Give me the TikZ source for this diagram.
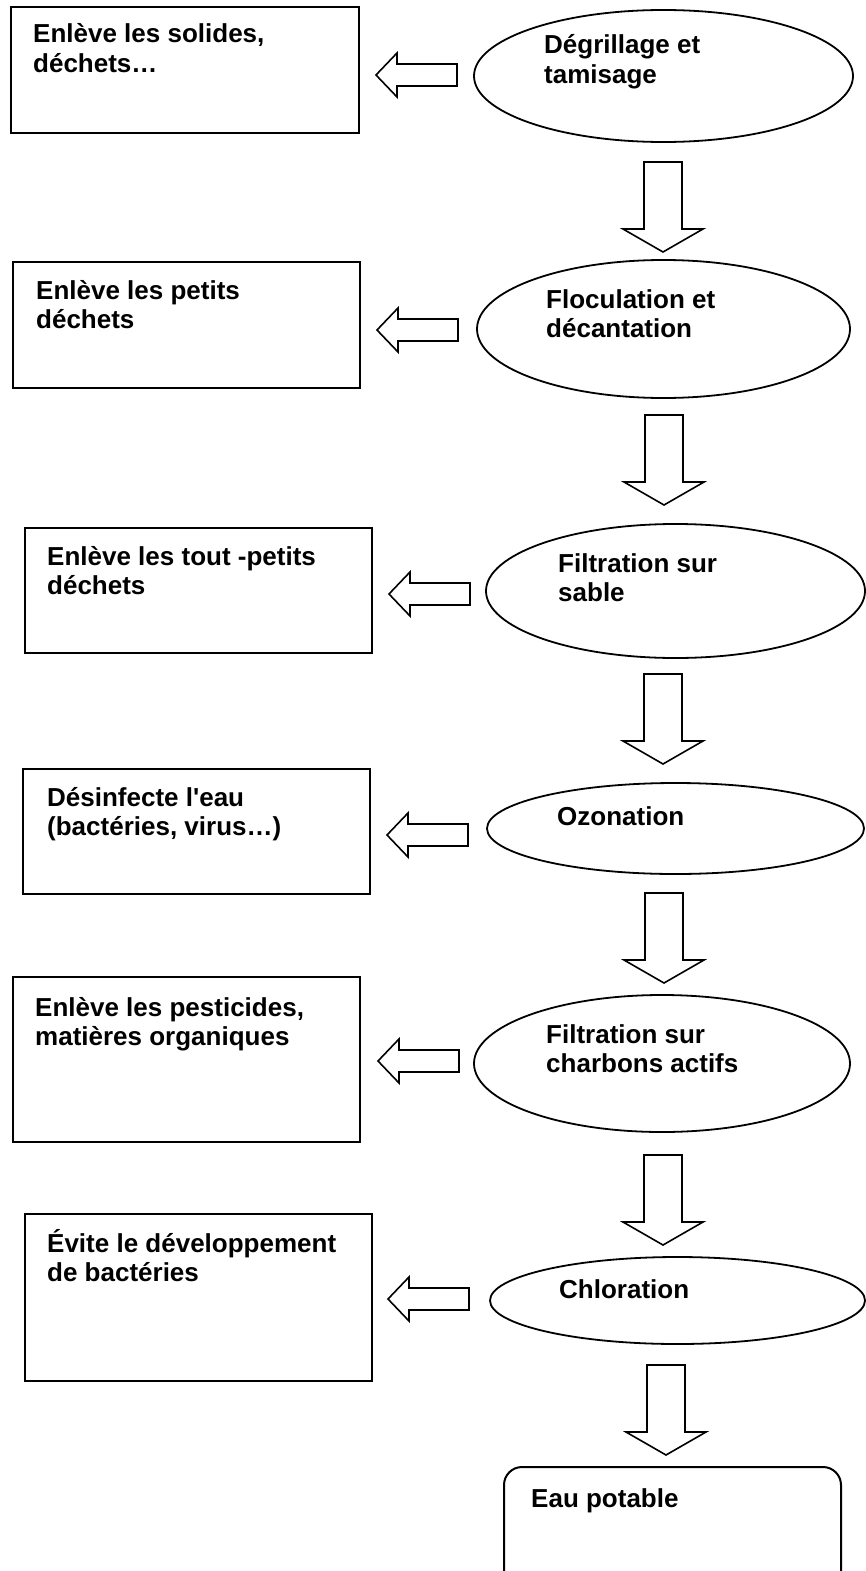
\documentclass[tikz,border=0pt]{standalone}
\usepackage{fontspec}
\setmainfont{Liberation Sans}[Ligatures=TeXOff]
\usetikzlibrary{shapes.geometric}
\tikzset{
  stepbox/.style={draw, line width=2pt, rectangle, inner sep=0pt},
  procell/.style={draw, line width=1.8pt, ellipse, inner sep=0pt},
  lbl/.style={anchor=base west, inner sep=0pt, font=\fontsize{26}{29.5}\selectfont\bfseries},
  blk/.style={draw, line width=1.6pt, fill=white, line join=miter},
  downarr/.pic={\draw[blk] (-19,-90) -- (19,-90) -- (19,-23) -- (40,-23) -- (0,0) -- (-40,-23) -- (-19,-23) -- cycle;},
  leftarr/.pic={\draw[blk] (0,0) -- (21,-22) -- (21,-11) -- (81,-11) -- (81,11) -- (21,11) -- (21,22) -- cycle;}
}
\begin{document}
\begin{tikzpicture}[x=1pt,y=-1pt]
\useasboundingbox (0,0) rectangle (866,1571);
\clip (0,0) rectangle (866,1571);
% left boxes
\node[stepbox, minimum width=348, minimum height=126] (b1) at (185,70) {};
\node[stepbox, minimum width=347, minimum height=126] (b2) at (186.5,325) {};
\node[stepbox, minimum width=347, minimum height=125] (b3) at (198.5,590.5) {};
\node[stepbox, minimum width=347, minimum height=125] (b4) at (196.5,831.5) {};
\node[stepbox, minimum width=347, minimum height=165] (b5) at (186.5,1059.5) {};
\node[stepbox, minimum width=347, minimum height=167] (b6) at (198.5,1297.5) {};
% ellipses
\node[procell, minimum width=379, minimum height=132] (e1) at (663.5,76) {};
\node[procell, minimum width=373, minimum height=138] (e2) at (663.5,329) {};
\node[procell, minimum width=379, minimum height=134] (e3) at (675.5,591) {};
\node[procell, minimum width=377, minimum height=91] (e4) at (675.5,828.5) {};
\node[procell, minimum width=376, minimum height=137] (e5) at (662,1063.5) {};
\node[procell, minimum width=375, minimum height=87] (e6) at (677.5,1300.5) {};
% final box
\node[stepbox, rounded corners=18pt, minimum width=337, minimum height=124] (fin) at (672.5,1529) {};
% texts in boxes
\node[lbl] (t1a) at (33,43) {Enlève les solides,};
\node[lbl] (t1b) at (33,72.5) {déchets…};
\node[lbl] (t2a) at (36,299) {Enlève les petits};
\node[lbl] (t2b) at (36,328.5) {déchets};
\node[lbl] (t3a) at (47,565) {Enlève les tout -petits};
\node[lbl] (t3b) at (47,594.5) {déchets};
\node[lbl] (t4a) at (47,806) {Désinfecte l'eau};
\node[lbl] (t4b) at (47,835.5) {(bactéries, virus…)};
\node[lbl] (t5a) at (35,1016) {Enlève les pesticides,};
\node[lbl] (t5b) at (35,1045.5) {matières organiques};
\node[lbl] (t6a) at (47,1252) {Évite le développement};
\node[lbl] (t6b) at (47,1281.5) {de bactéries};
% texts in ellipses
\node[lbl] (s1a) at (544,54) {Dégrillage et};
\node[lbl] (s1b) at (544,83.5) {tamisage};
\node[lbl] (s2a) at (546,308) {Floculation et};
\node[lbl] (s2b) at (546,337.5) {décantation};
\node[lbl] (s3a) at (558,572) {Filtration sur};
\node[lbl] (s3b) at (558,601.5) {sable};
\node[lbl] (s4a) at (557,825) {Ozonation};
\node[lbl] (s5a) at (546,1043) {Filtration sur};
\node[lbl] (s5b) at (546,1072.5) {charbons actifs};
\node[lbl] (s6a) at (559,1298) {Chloration};
\node[lbl] (fa) at (531,1507) {Eau potable};
% down block arrows (tip positions)
\pic (d1) at (663,252) {downarr};
\pic (d2) at (664,505) {downarr};
\pic (d3) at (663,764) {downarr};
\pic (d4) at (664,983) {downarr};
\pic (d5) at (663,1245) {downarr};
\pic (d6) at (666,1455) {downarr};
% left block arrows (tip positions)
\pic (l1) at (376,75) {leftarr};
\pic (l2) at (377,330) {leftarr};
\pic (l3) at (389,594) {leftarr};
\pic (l4) at (387,835) {leftarr};
\pic (l5) at (378,1061) {leftarr};
\pic (l6) at (388,1299) {leftarr};
\end{tikzpicture}
\end{document}
